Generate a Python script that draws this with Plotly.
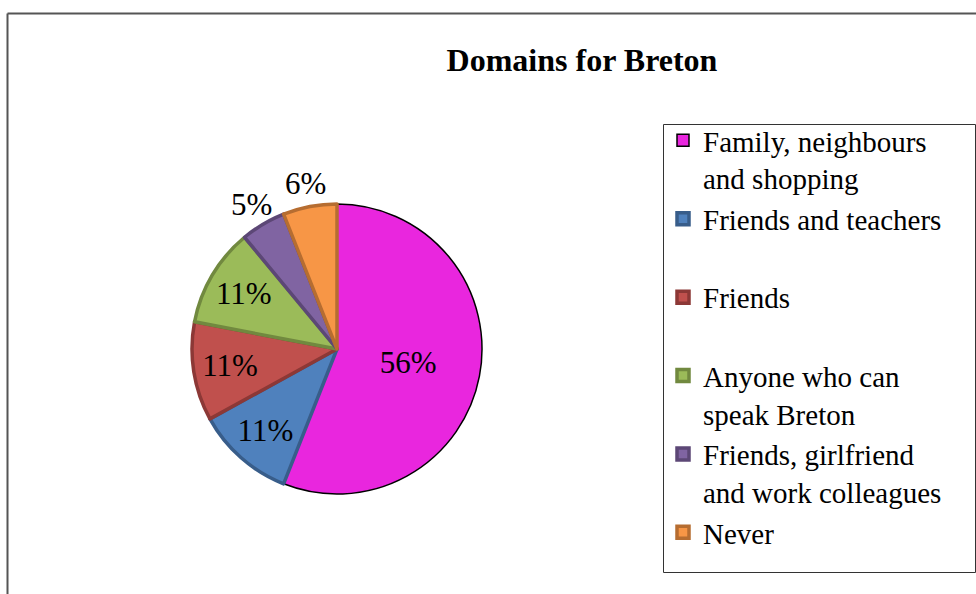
import math
import plotly.graph_objects as go

# Share of answers per domain in which Breton is spoken
categories = [
    "Family, neighbours<br>and shopping",
    "Friends and teachers<br>&nbsp;",
    "Friends<br>&nbsp;",
    "Anyone who can<br>speak Breton",
    "Friends, girlfriend<br>and work colleagues",
    "Never",
]
values = [56, 11, 11, 11, 5, 6]
fill_colors = ["#E926DE", "#4F81BD", "#C0504D", "#9BBB59", "#8064A2", "#F79646"]
edge_colors = ["#000000", "#385D8A", "#8C3836", "#71893F", "#5C4776", "#B66D31"]
edge_widths = [1.5, 3.5, 3.5, 3.5, 3.5, 3.5]
# slices whose percentage sits just outside the rim
outside_label = [False, False, False, False, True, True]

W, H = 976, 594
SERIF = "Liberation Serif, Times New Roman, serif"

# pie centre and radius in pixels
cx, cy, r = 337, 349, 145
domain = dict(
    x=[(cx - r) / W, (cx + r) / W],
    y=[(H - cy - r) / H, (H - cy + r) / H],
)
label_font = dict(family=SERIF, size=31, color="black")

total = sum(values)
inside_templates = ["" if o else "%{percent:.0%}" for o in outside_label]

fig = go.Figure(
    go.Pie(
        labels=categories,
        values=values,
        sort=False,
        direction="clockwise",
        rotation=0,
        marker=dict(colors=fill_colors, line=dict(color=edge_colors, width=edge_widths)),
        texttemplate=inside_templates,
        textposition="inside",
        insidetextorientation="horizontal",
        textfont=label_font,
        domain=domain,
        showlegend=True,
        hoverinfo="label+percent",
    )
)

# outside labels, placed along each slice's mid-angle just beyond the rim
label_r = r + 23
annotations = []
cum = 0
for v, o in zip(values, outside_label):
    mid = (cum + v / 2) / total * 2 * math.pi
    cum += v
    if not o:
        continue
    px = cx + label_r * math.sin(mid)
    py = cy - label_r * math.cos(mid)
    annotations.append(dict(
        x=px / W, y=1 - py / H, xref="paper", yref="paper",
        text=f"{round(v / total * 100)}%", showarrow=False,
        xanchor="center", yanchor="middle", font=label_font,
    ))

fig.update_layout(
    width=W,
    height=H,
    margin=dict(l=0, r=0, t=0, b=0),
    paper_bgcolor="white",
    plot_bgcolor="white",
    title=dict(
        text="<b>Domains for Breton</b>",
        font=dict(family=SERIF, size=32, color="black"),
        x=582 / W,
        xanchor="center",
        y=1 - 60 / H,
        yanchor="middle",
        yref="container",
    ),
    legend=dict(
        x=663 / W,
        xanchor="left",
        y=1 - 115 / H,
        yanchor="top",
        font=dict(family=SERIF, size=29, color="black"),
        valign="top",
        borderwidth=0,
        bgcolor="rgba(0,0,0,0)",
    ),
    annotations=annotations,
    shapes=[
        # outer chart frame (left and top edges)
        dict(type="line", xref="paper", yref="paper",
             x0=7.5 / W, x1=7.5 / W, y0=-0.05, y1=1 - 13.5 / H,
             line=dict(color="#555555", width=2)),
        dict(type="line", xref="paper", yref="paper",
             x0=7.5 / W, x1=1.05, y0=1 - 13.5 / H, y1=1 - 13.5 / H,
             line=dict(color="#555555", width=2)),
        # legend box
        dict(type="rect", xref="paper", yref="paper",
             x0=663.5 / W, x1=975.5 / W, y0=1 - 572.5 / H, y1=1 - 124.5 / H,
             line=dict(color="#333333", width=1)),
    ],
)

fig.write_html("out.html")
